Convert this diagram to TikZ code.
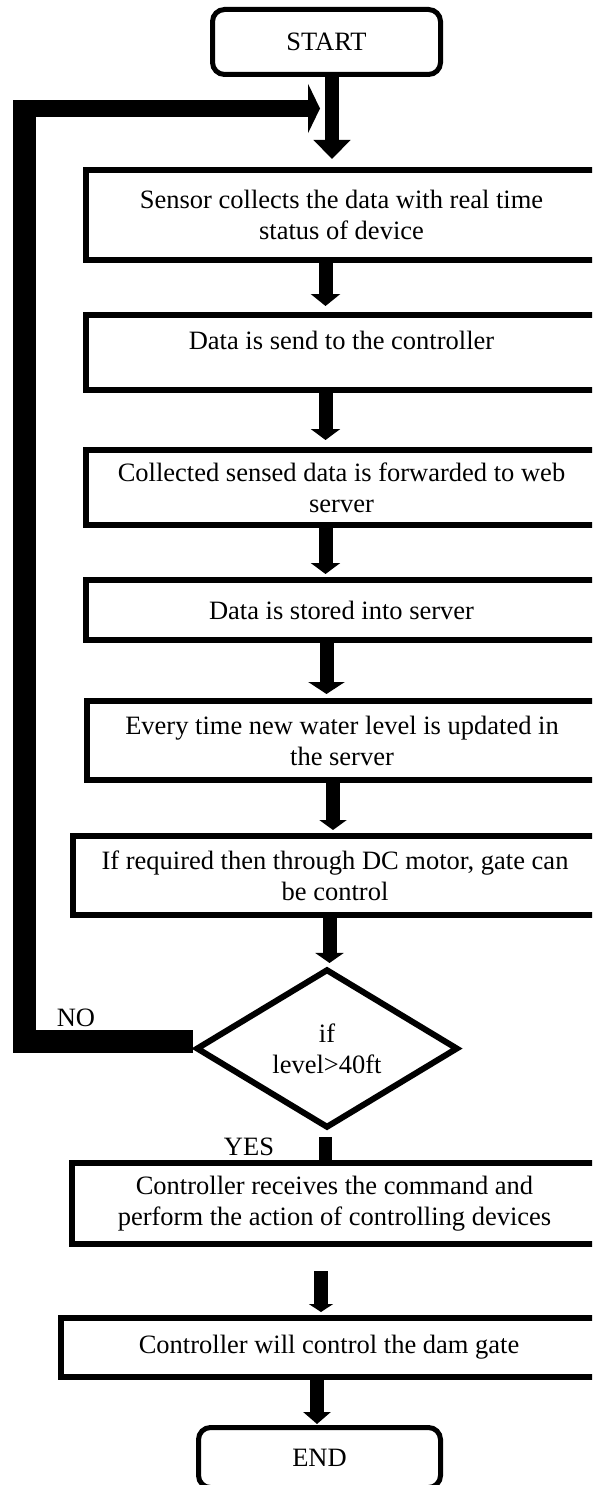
\documentclass[tikz,border=0pt]{standalone}
\usepackage{fontspec}
\setmainfont{Liberation Serif}
\usetikzlibrary{arrows.meta,shapes.geometric}

\begin{document}
\begin{tikzpicture}
[x=1pt,y=-1pt,font=\fontsize{26.5}{31}\selectfont,
  process/.style={draw,line width=6pt,align=center,inner sep=0pt},
  terminal/.style={draw,line width=5pt,rounded corners=12pt,inner sep=0pt},
  decision/.style={draw,diamond,line width=6pt,align=center,inner sep=0pt,
    minimum width=262pt,minimum height=156pt},
  flow/.style={line width=14pt},
  loopline/.style={line width=23pt}]
  \clip (0,0) rectangle (592,1485);

  \node[terminal,minimum width=228pt,minimum height=65pt] (start) at (326.5,42) {START};
  \node[process,minimum width=511pt,minimum height=90pt] (sensor) at (341.5,215)
    {Sensor collects the data with real time\\status of device};
  \node[process,minimum width=511pt,minimum height=75pt,text depth=25pt] (send) at (341.5,352.5)
    {Data is send to the controller};
  \node[process,minimum width=511pt,minimum height=75pt] (forward) at (341.5,487.5)
    {Collected sensed data is forwarded to web\\server};
  \node[process,minimum width=511pt,minimum height=60pt] (stored) at (341.5,610)
    {Data is stored into server};
  \node[process,minimum width=510pt,minimum height=79pt] (update) at (342,740.5)
    {Every time new water level is updated in\\the server};
  \node[process,minimum width=524pt,minimum height=79pt] (motor) at (335,875.5)
    {If required then through DC motor, gate can\\be control};
  \node[decision] (dec) at (327,1048.5) {if\\level>40ft};
  \node[process,minimum width=525pt,minimum height=81pt] (receive) at (334.5,1203.5)
    {Controller receives the command and\\perform the action of controlling devices};
  \node[process,minimum width=536pt,minimum height=59pt] (gate) at (329,1347.5)
    {Controller will control the dam gate};
  \node[terminal,minimum width=242pt,minimum height=60pt] (finish) at (319.5,1457.5) {END};

  \node (no) at (76,1017.5) {NO};
  \node (yes) at (249,1146.5) {YES};

%   loop back to the top
  \coordinate (nobend) at (24.5,1041.5);
  \coordinate (topbend) at (24.5,100);
  \coordinate (topcorner) at (13,108.5);
  \coordinate (merge) at (320,108.5);

  \foreach \from/\to/\dx/\pre/\post/\hw/\hl in {start/sensor/5.5/0/8/36/19,
      sensor/send/-16/0/6/29/12,
      send/forward/-16/0/7/29/11,
      forward/stored/-16/0/3/29/11,
      stored/update/-15/0/4/36/12,
      update/motor/-9/0/3/27/10,
      motor/dec/-5.5/0/3/28/10,
      receive/gate/-13.5/24/3/24/8,
      gate/finish/-12/0/1/27/12}
    \draw[flow,-{Triangle[width=\hw pt,length=\hl pt]},shorten <=\pre pt,shorten >=\post pt]
      ([xshift=\dx pt]\from.south) -- ([xshift=\dx pt]\from.south |- \to.north);

  \draw[flow,line width=13pt,shorten <=6pt] ([xshift=-1.5pt]dec.south) -- ([xshift=-1.5pt]dec.south |- receive.north);

  \draw[loopline] (dec.west |- nobend) -- (nobend) -- (topbend);
  \draw[line width=17pt,-{Triangle[width=49pt,length=12pt]}] (topcorner) -- (merge);

\end{tikzpicture}
\end{document}
